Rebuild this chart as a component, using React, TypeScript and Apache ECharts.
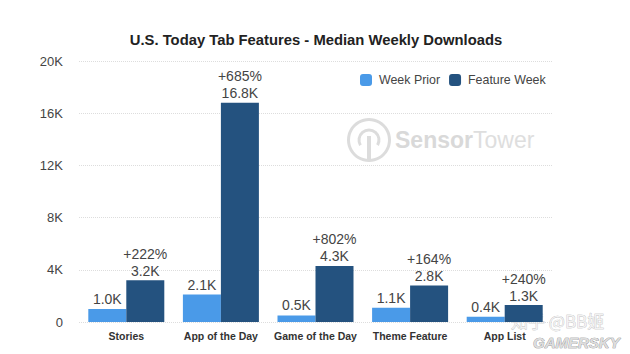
import React, { useEffect, useRef } from "react";
import * as echarts from "echarts";

const categories = ["Stories", "App of the Day", "Game of the Day", "Theme Feature", "App List"];
const weekPrior = [1.0, 2.1, 0.5, 1.1, 0.4];
const featureWeek = [3.2, 16.8, 4.3, 2.8, 1.3];
const lifts = ["+222%", "+685%", "+802%", "+164%", "+240%"];
const font = "Liberation Sans, Arial, sans-serif";

export default function App() {
  const ref = useRef<HTMLDivElement>(null);
  useEffect(() => {
    const chart = echarts.init(ref.current!, null, { renderer: "svg" });
    chart.setOption({
      animation: false,
      backgroundColor: "#ffffff",
      textStyle: { fontFamily: font },
      title: {
        text: "U.S. Today Tab Features - Median Weekly Downloads",
        left: 311,
        top: 27,
        textAlign: "center",
        textStyle: { fontSize: 14.8, fontWeight: "bold", color: "#222222", fontFamily: font },
      },
      legend: {
        left: 355,
        top: 69,
        itemWidth: 12,
        itemHeight: 12,
        itemGap: 9,
        textStyle: { fontSize: 12.4, color: "#444444", padding: [0, 0, 0, 2] },
        data: ["Week Prior", "Feature Week"],
      },
      grid: { left: 79, right: 78, top: 61, bottom: 32 },
      xAxis: {
        type: "category",
        data: categories,
        axisLine: { show: false },
        axisTick: { show: false },
        axisLabel: { fontSize: 10.5, fontWeight: "bold", color: "#333333", margin: 8, interval: 0 },
      },
      yAxis: {
        type: "value",
        min: 0,
        max: 20,
        interval: 4,
        axisLine: { show: false },
        axisTick: { show: false },
        axisLabel: {
          fontSize: 13,
          color: "#444444",
          margin: 16,
          formatter: (v: number) => (v === 0 ? "0" : `${v}K`),
        },
        splitLine: { lineStyle: { color: "#dddddd", type: "dotted", width: 1 } },
      },
      series: [
        {
          name: "Week Prior",
          type: "bar",
          data: weekPrior,
          barWidth: 38,
          barGap: "0%",
          itemStyle: { color: "#4a9ae8" },
          label: {
            show: true,
            position: "top",
            distance: 3,
            fontSize: 14,
            color: "#444444",
            formatter: (p: any) => `${p.value.toFixed(1)}K`,
          },
        },
        {
          name: "Feature Week",
          type: "bar",
          data: featureWeek,
          barWidth: 38,
          itemStyle: { color: "#24527f" },
          label: {
            show: true,
            position: "top",
            distance: 1,
            fontSize: 14,
            lineHeight: 17,
            color: "#444444",
            formatter: (p: any) => `${lifts[p.dataIndex]}\n${p.value.toFixed(1)}K`,
          },
        },
      ],
      graphic: [
        { type: "ring", shape: { cx: 369, cy: 140, r: 22, r0: 19 }, style: { fill: "#dcdcdc" }, silent: true },
        { type: "arc", shape: { cx: 369, cy: 140, r: 10, startAngle: 2.6, endAngle: 0.54, clockwise: true }, style: { stroke: "#dcdcdc", lineWidth: 3, fill: "none" }, silent: true },
        { type: "rect", shape: { x: 367, y: 136, width: 4, height: 25 }, style: { fill: "#dcdcdc" }, silent: true },
        { type: "text", x: 395, y: 128, style: { text: "Sensor", fontSize: 23, fontWeight: "bold", fill: "#d9d9d9", fontFamily: font } },
        { type: "text", x: 473, y: 128, style: { text: "Tower", fontSize: 23, fill: "#dedede", fontFamily: font } },
        { type: "text", x: 511, y: 312, style: { text: "知乎 @BB姬", fontSize: 17, fill: "#f2f2f2", stroke: "#aaaaaa", lineWidth: 0.5, fontFamily: "Noto Sans CJK SC" } },
        { type: "text", x: 533, y: 335, style: { text: "GAMERSKY", fontSize: 15, fontWeight: "bold", fontStyle: "italic", fill: "#dddddd", stroke: "#777777", lineWidth: 0.6, fontFamily: font } },
      ],
    });
    return () => chart.dispose();
  }, []);
  return <div ref={ref} style={{ width: 630, height: 354, position: "absolute", left: 0, top: 0 }} />;
}
